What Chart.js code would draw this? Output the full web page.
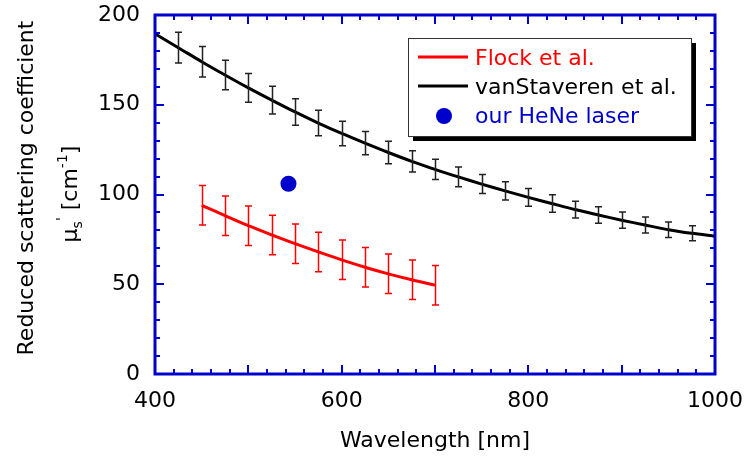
<!DOCTYPE html>
<html>
<head>
<meta charset="utf-8">
<script src="https://cdn.jsdelivr.net/npm/chart.js@4.4.1/dist/chart.umd.min.js"></script>
<style>
  html, body { margin: 0; padding: 0; background: #fff; }
</style>
</head>
<body>
<canvas id="chart" width="749" height="459"></canvas>
<script>
const AXIS_BLUE = '#0000cc';
const FONT = 'DejaVu Sans';

// vanStaveren et al. (curve + error bars)
const vsWavelength = [400, 425, 450, 475, 500, 525, 550, 575, 600, 625, 650, 675, 700,
                      725, 750, 775, 800, 825, 850, 875, 900, 925, 950, 975, 1000];
const vsValues = [189.5, 181.8, 174.0, 166.6, 159.4, 152.6, 146.0, 139.8, 134.0, 128.6, 123.4, 118.5, 114.0,
                  109.8, 105.8, 102.0, 98.4, 95.0, 91.6, 88.6, 85.7, 83.0, 80.4, 78.4, 76.8];
const vsErrors = [null, 8.6, 8.5, 8.2, 8.0, 7.7, 7.4, 7.1, 6.8, 6.5, 6.2, 5.9, 5.6,
                  5.5, 5.3, 5.1, 5.0, 4.9, 4.7, 4.6, 4.5, 4.4, 4.3, 4.2, null];

// Flock et al.
const flockWavelength = [450, 475, 500, 525, 550, 575, 600, 625, 650, 675, 700];
const flockValues = [94.0, 88.2, 82.6, 77.5, 72.6, 68.0, 63.6, 59.5, 55.8, 52.5, 49.5];
const flockErrors = [11, 11, 11, 11, 11, 11, 11, 11, 11, 11, 11];

// our HeNe laser
const heneWavelength = [543];
const heneValues = [106];

const xTickLabels = [400, 600, 800, 1000];
const yTickLabels = [0, 50, 100, 150, 200];

function toPoints(xs, ys) {
    return xs.map((x, i) => ({x: x, y: ys[i]}));
}

// error bars, drawn from dataset.errors through the scales
const errorBars = {
    id: 'errorBars',
    afterDatasetsDraw(chart) {
        const ctx = chart.ctx;
        const xs = chart.scales.x, ys = chart.scales.y;
        chart.data.datasets.forEach(ds => {
            if (!ds.errors) return;
            ctx.save();
            ctx.strokeStyle = ds.errorColor;
            ctx.lineWidth = 1.5;
            ds.data.forEach((p, i) => {
                const e = ds.errors[i];
                if (e == null) return;
                const px = Math.round(xs.getPixelForValue(p.x)) + 0.5;
                const top = ys.getPixelForValue(p.y + e);
                const bot = ys.getPixelForValue(p.y - e);
                ctx.beginPath();
                ctx.moveTo(px, top); ctx.lineTo(px, bot);
                ctx.moveTo(px - 3.5, top); ctx.lineTo(px + 3.5, top);
                ctx.moveTo(px - 3.5, bot); ctx.lineTo(px + 3.5, bot);
                ctx.stroke();
            });
            ctx.restore();
        });
    }
};

// blue frame with inward ticks on all four sides
const frame = {
    id: 'frame',
    afterDatasetsDraw(chart) {
        const ctx = chart.ctx;
        const a = chart.chartArea;
        const xs = chart.scales.x, ys = chart.scales.y;
        ctx.save();
        ctx.strokeStyle = AXIS_BLUE;
        ctx.lineWidth = 2;
        ctx.beginPath();
        for (let v = 420; v < 1000; v += 20) {
            const px = Math.round(xs.getPixelForValue(v));
            const len = v % 100 == 0 ? 9 : 5;
            ctx.moveTo(px, a.bottom); ctx.lineTo(px, a.bottom - len);
            ctx.moveTo(px, a.top); ctx.lineTo(px, a.top + len);
        }
        for (let v = 10; v < 200; v += 10) {
            const py = Math.round(ys.getPixelForValue(v));
            const len = v % 50 == 0 ? 9 : 5;
            ctx.moveTo(a.left, py); ctx.lineTo(a.left + len, py);
            ctx.moveTo(a.right, py); ctx.lineTo(a.right - len, py);
        }
        ctx.stroke();
        ctx.lineWidth = 3;
        ctx.strokeRect(a.left, a.top, a.right - a.left, a.bottom - a.top);
        ctx.restore();
    }
};

// legend box with drop shadow
const boxLegend = {
    id: 'boxLegend',
    afterDraw(chart) {
        const ctx = chart.ctx;
        const lx = 408, ly = 38, lw = 283, lh = 98;
        ctx.save();
        ctx.fillStyle = '#000';
        ctx.fillRect(lx + 5, ly + 5, lw, lh);
        ctx.fillStyle = '#fff';
        ctx.fillRect(lx, ly, lw, lh);
        ctx.strokeStyle = '#333';
        ctx.lineWidth = 1;
        ctx.strokeRect(lx + 0.5, ly + 0.5, lw, lh);
        ctx.font = '22px ' + FONT;
        ctx.textBaseline = 'alphabetic';
        ctx.textAlign = 'left';
        chart.data.datasets.forEach((ds, i) => {
            const base = ly + 27 + i * 29;
            const color = ds.showLine === false ? ds.backgroundColor : ds.borderColor;
            if (ds.showLine === false) {
                ctx.fillStyle = color;
                ctx.beginPath();
                ctx.arc(lx + 36, base - 7, 8, 0, Math.PI * 2);
                ctx.fill();
            } else {
                ctx.strokeStyle = color;
                ctx.lineWidth = 3;
                ctx.beginPath();
                ctx.moveTo(lx + 10, base - 8);
                ctx.lineTo(lx + 60, base - 8);
                ctx.stroke();
            }
            ctx.fillStyle = color;
            ctx.fillText(ds.label, lx + 67, base);
        });
        ctx.restore();
    }
};

// two-line rotated y title with sub/superscripts
const yTitle = {
    id: 'yTitle',
    afterDraw(chart) {
        const ctx = chart.ctx;
        ctx.save();
        ctx.fillStyle = '#000';
        ctx.textBaseline = 'alphabetic';
        ctx.textAlign = 'left';
        ctx.font = '22px ' + FONT;
        ctx.translate(33, 188);
        ctx.rotate(-Math.PI / 2);
        const line1 = 'Reduced scattering coefficient';
        ctx.fillText(line1, -ctx.measureText(line1).width / 2, 0);
        ctx.restore();

        const parts = [
            {t: 'μ', s: 22, dy: 0},
            {t: 's', s: 14, dy: 5},
            {t: "'", s: 14, dy: -11},
            {t: ' [cm', s: 22, dy: 0},
            {t: '-1', s: 14, dy: -10},
            {t: ']', s: 22, dy: 0}
        ];
        ctx.save();
        ctx.fillStyle = '#000';
        let total = 0;
        parts.forEach(p => { ctx.font = p.s + 'px ' + FONT; p.w = ctx.measureText(p.t).width; total += p.w; });
        ctx.translate(77, 194);
        ctx.rotate(-Math.PI / 2);
        let x = -total / 2;
        parts.forEach(p => {
            ctx.font = p.s + 'px ' + FONT;
            ctx.fillText(p.t, x, p.dy);
            x += p.w;
        });
        ctx.restore();
    }
};

new Chart(document.getElementById('chart'), {
    type: 'line',
    data: {
        datasets: [
            {label: 'Flock et al.', data: toPoints(flockWavelength, flockValues), errors: flockErrors,
             errorColor: '#ff0000', borderColor: '#ff0000', borderWidth: 3, pointRadius: 0, tension: 0.3},
            {label: 'vanStaveren et al.', data: toPoints(vsWavelength, vsValues), errors: vsErrors,
             errorColor: '#222', borderColor: '#000', borderWidth: 3, pointRadius: 0, tension: 0.3},
            {label: 'our HeNe laser', type: 'scatter', data: toPoints(heneWavelength, heneValues), showLine: false,
             backgroundColor: AXIS_BLUE, borderColor: AXIS_BLUE, pointRadius: 8, borderWidth: 0}
        ]
    },
    options: {
        responsive: false,
        animation: false,
        devicePixelRatio: 1,
        layout: {padding: {top: 15, right: 34, left: 0, bottom: 0}},
        plugins: {legend: {display: false}, tooltip: {enabled: false}},
        scales: {
            x: {
                type: 'linear', min: 400, max: 1000,
                afterBuildTicks: s => { s.ticks = xTickLabels.map(v => ({value: v})); },
                afterFit: s => { s.height = 85; s.paddingLeft = 0; s.paddingRight = 0; },
                grid: {display: false, drawTicks: false},
                border: {display: false},
                ticks: {padding: 14, color: '#000', font: {family: FONT, size: 22}, callback: v => String(v)},
                title: {display: true, text: 'Wavelength [nm]', color: '#000',
                        font: {family: FONT, size: 22}, padding: {top: 0, bottom: 5}}
            },
            y: {
                type: 'linear', min: 0, max: 200,
                afterBuildTicks: s => { s.ticks = yTickLabels.map(v => ({value: v})); },
                afterFit: s => { s.width = 155; s.paddingTop = 0; s.paddingBottom = 0; },
                grid: {display: false, drawTicks: false},
                border: {display: false},
                ticks: {padding: 15, color: '#000', font: {family: FONT, size: 22}, callback: v => String(v)}
            }
        }
    },
    plugins: [errorBars, frame, boxLegend, yTitle]
});
</script>
</body>
</html>
